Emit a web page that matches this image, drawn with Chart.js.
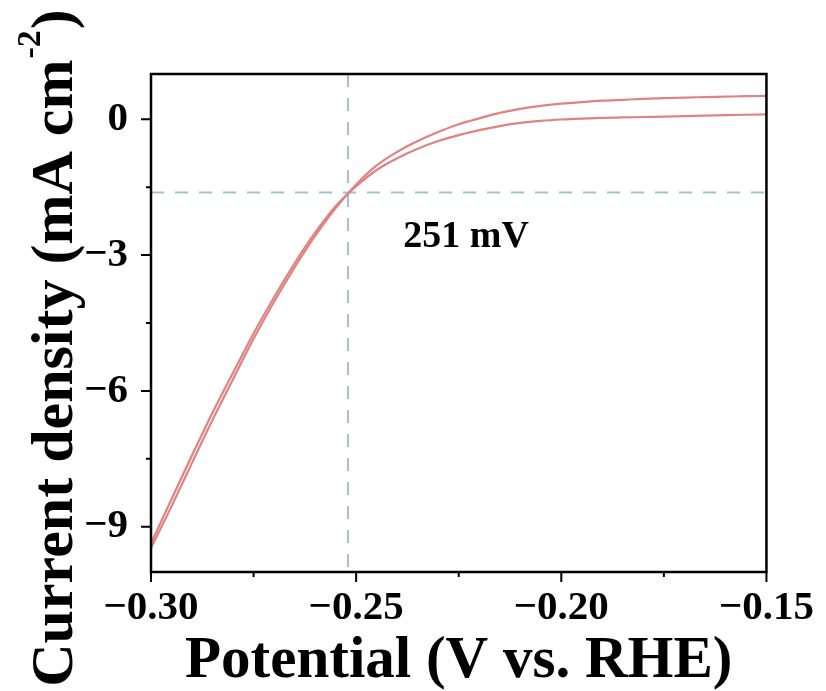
<!DOCTYPE html>
<html>
<head>
<meta charset="utf-8">
<script src="https://cdn.jsdelivr.net/npm/chart.js@4.4.0/dist/chart.umd.min.js"></script>
<style>
  html, body { margin: 0; padding: 0; background: #ffffff; }
  #wrap { width: 826px; height: 691px; }
</style>
</head>
<body>
<div id="wrap"><canvas id="c" width="826" height="691"></canvas></div>
<script>
// ---------------- data ----------------
const potential = [-0.300, -0.295, -0.290, -0.285, -0.280, -0.275, -0.270, -0.265, -0.260, -0.255,
                   -0.250, -0.245, -0.240, -0.235, -0.230, -0.225, -0.220, -0.215, -0.210, -0.205,
                   -0.200, -0.195, -0.190, -0.185, -0.180, -0.175, -0.170, -0.165, -0.160, -0.155, -0.150];
const sweepA = [-9.47, -8.55, -7.59, -6.64, -5.74, -4.85, -4.03, -3.27, -2.575, -1.96,
                -1.44, -1.02, -0.72, -0.48, -0.28, -0.11, 0.02, 0.14, 0.23, 0.295,
                0.345, 0.38, 0.41, 0.43, 0.45, 0.465, 0.48, 0.49, 0.50, 0.51, 0.515];
const sweepB = [-9.37, -8.39, -7.42, -6.48, -5.60, -4.73, -3.93, -3.18, -2.505, -1.92,
                -1.48, -1.12, -0.86, -0.65, -0.48, -0.35, -0.24, -0.15, -0.08, -0.035,
                -0.005, 0.015, 0.03, 0.04, 0.05, 0.06, 0.07, 0.08, 0.09, 0.10, 0.11];

const xRange = [-0.30, -0.15];
const yRange = [-10, 1];
const xMajorTicks = [-0.30, -0.25, -0.20, -0.15];
const xMinorTicks = [-0.275, -0.225, -0.175];
const yMajorTicks = [0, -3, -6, -9];
const yMinorTicks = [-1.5, -4.5, -7.5];

const markerPotential = [-0.252];   // vertical dashed guide
const markerCurrent = [-1.615];     // horizontal dashed guide
const annotationText = ['251 mV'];
const annotationPos = [-0.2385, -2.83];

const xTitle = 'Potential (V vs. RHE)';
const yTitleMain = 'Current density (mA cm';
const yTitleSup = '-2';
const yTitleEnd = ')';

// ---------------- styles ----------------
const FONT = '"Liberation Serif", "Times New Roman", serif';
const curveColor = 'rgb(225,130,130)';
const guideColor = 'rgb(164,196,191)';

function fmtX(v) { return v === 0 ? '0' : (v < 0 ? '\u2212' : '') + Math.abs(v).toFixed(2); }
function fmtY(v) { return v === 0 ? '0' : (v < 0 ? '\u2212' : '') + Math.abs(v).toFixed(0); }

const decor = {
  id: 'decor',
  afterDraw(chart) {
    const { ctx, chartArea: a, scales } = chart;
    const xs = scales.x, ys = scales.y;
    ctx.save();
    // frame
    ctx.strokeStyle = '#000';
    ctx.lineWidth = 2.5;
    ctx.strokeRect(a.left, a.top, a.right - a.left, a.bottom - a.top);
    // tick marks
    ctx.lineWidth = 2;
    ctx.beginPath();
    xMajorTicks.forEach(v => { const p = xs.getPixelForValue(v); ctx.moveTo(p, a.bottom); ctx.lineTo(p, a.bottom + 10); });
    xMinorTicks.forEach(v => { const p = xs.getPixelForValue(v); ctx.moveTo(p, a.bottom); ctx.lineTo(p, a.bottom + 5); });
    yMajorTicks.forEach(v => { const p = ys.getPixelForValue(v); ctx.moveTo(a.left, p); ctx.lineTo(a.left - 10, p); });
    yMinorTicks.forEach(v => { const p = ys.getPixelForValue(v); ctx.moveTo(a.left, p); ctx.lineTo(a.left - 5, p); });
    ctx.stroke();

    // annotation
    ctx.fillStyle = '#000';
    ctx.font = 'bold 38px ' + FONT;
    ctx.textAlign = 'left';
    ctx.textBaseline = 'alphabetic';
    ctx.fillText(annotationText[0], xs.getPixelForValue(annotationPos[0]), ys.getPixelForValue(annotationPos[1]));

    // x title
    ctx.font = 'bold 59px ' + FONT;
    ctx.textAlign = 'center';
    ctx.fillText(xTitle, (a.left + a.right) / 2, 677);

    // y title (rotated, with superscript)
    ctx.textAlign = 'left';
    ctx.font = 'bold 60px ' + FONT;
    const wMain = ctx.measureText(yTitleMain).width;
    const wEnd = ctx.measureText(yTitleEnd).width;
    ctx.font = 'bold 34px ' + FONT;
    const wSup = ctx.measureText(yTitleSup).width;
    const total = wMain + wSup + wEnd;
    ctx.translate(72, 349);
    ctx.rotate(-Math.PI / 2);
    const x0 = -total / 2;
    ctx.font = 'bold 60px ' + FONT;
    ctx.fillText(yTitleMain, x0, 0);
    ctx.font = 'bold 34px ' + FONT;
    ctx.fillText(yTitleSup, x0 + wMain + 1, -32);
    ctx.font = 'bold 60px ' + FONT;
    ctx.fillText(yTitleEnd, x0 + wMain + wSup + 2, 0);
    ctx.restore();
  }
};

const chart = new Chart(document.getElementById('c'), {
  type: 'line',
  data: {
    datasets: [
      {
        label: 'sweep A',
        data: potential.map((x, i) => ({ x, y: sweepA[i] })),
        borderColor: curveColor, borderWidth: 2.2, pointRadius: 0,
        cubicInterpolationMode: 'monotone', order: 1
      },
      {
        label: 'sweep B',
        data: potential.map((x, i) => ({ x, y: sweepB[i] })),
        borderColor: curveColor, borderWidth: 2.2, pointRadius: 0,
        cubicInterpolationMode: 'monotone', order: 2
      },
      {
        label: 'vertical guide',
        data: [{ x: markerPotential[0], y: yRange[1] }, { x: markerPotential[0], y: yRange[0] }],
        borderColor: guideColor, borderWidth: 2, borderDash: [13, 11], pointRadius: 0, order: 3
      },
      {
        label: 'horizontal guide',
        data: [{ x: xRange[0], y: markerCurrent[0] }, { x: xRange[1], y: markerCurrent[0] }],
        borderColor: guideColor, borderWidth: 2, borderDash: [13, 11], pointRadius: 0, order: 4
      }
    ]
  },
  options: {
    responsive: false,
    animation: false,
    devicePixelRatio: 1,
    layout: { padding: { top: 74, right: 56, left: 0, bottom: 0 } },
    plugins: { legend: { display: false }, tooltip: { enabled: false } },
    scales: {
      x: {
        type: 'linear', min: xRange[0], max: xRange[1],
        grid: { display: false, drawTicks: false },
        border: { display: false },
        afterBuildTicks: s => { s.ticks = xMajorTicks.map(v => ({ value: v })); },
        afterFit: s => { s.height = 119; },
        ticks: {
          callback: v => fmtX(v), maxRotation: 0, autoSkip: false, padding: 12,
          color: '#000', font: { family: FONT, size: 41, weight: 'bold' }
        }
      },
      y: {
        type: 'linear', min: yRange[0], max: yRange[1],
        grid: { display: false, drawTicks: false },
        border: { display: false },
        afterBuildTicks: s => { s.ticks = yMajorTicks.map(v => ({ value: v })); },
        afterFit: s => { s.width = 151; },
        ticks: {
          callback: v => fmtY(v), autoSkip: false, padding: 23,
          color: '#000', font: { family: FONT, size: 41, weight: 'bold' }
        }
      }
    }
  },
  plugins: [decor]
});
</script>
</body>
</html>
